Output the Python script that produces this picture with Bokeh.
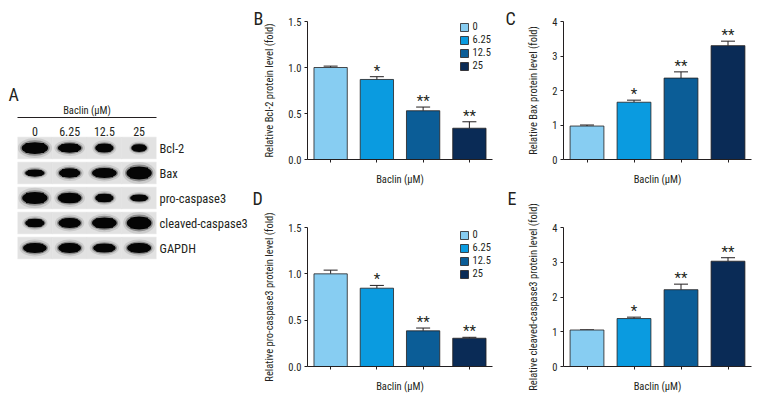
from bokeh.plotting import figure
from bokeh.models import (Range1d, FactorRange, ColumnDataSource, Whisker, TeeHead,
                          Label, Legend, LegendItem, FixedTicker, NumeralTickFormatter,
                          CategoricalAxis)
from bokeh.layouts import row, column
from bokeh.embed import file_html
from bokeh.resources import INLINE
from bokeh.core.properties import value

FONT = "'Roboto Condensed', 'Noto Sans ExtraCondensed', 'DejaVu Sans Condensed', 'Liberation Sans', sans-serif"
INK = "#231f20"

# ---------------- data ----------------
doses = ["0", "6.25", "12.5", "25"]
dose_title = "Baclin (μM)"
bar_colors = ["#87cdf2", "#0a9be0", "#0b5d97", "#0a2b56"]

bcl2_mean = [1.00, 0.87, 0.53, 0.34]
bcl2_err = [0.015, 0.03, 0.04, 0.07]
bax_mean = [0.97, 1.66, 2.36, 3.30]
bax_err = [0.03, 0.06, 0.18, 0.13]
pro_mean = [1.00, 0.845, 0.385, 0.305]
pro_err = [0.04, 0.03, 0.03, 0.01]
cleaved_mean = [1.05, 1.38, 2.21, 3.03]
cleaved_err = [0.005, 0.04, 0.16, 0.10]
significance = ["", "*", "**", "**"]

ticks_fold_small = [0, 0.5, 1.0, 1.5]
ticks_fold_large = [0, 1, 2, 3, 4]

blot_proteins = ["Bcl-2", "Bax", "pro-caspase3", "cleaved-caspase3", "GAPDH"]
# relative band width (fraction of a lane) and band thickness (fraction of a row)
band_width = {
    "Bcl-2": [0.76, 0.68, 0.53, 0.45],
    "Bax": [0.56, 0.62, 0.71, 0.73],
    "pro-caspase3": [0.73, 0.68, 0.53, 0.52],
    "cleaved-caspase3": [0.56, 0.65, 0.71, 0.71],
    "GAPDH": [0.68, 0.66, 0.65, 0.69],
}
band_thick = {
    "Bcl-2": [0.47, 0.38, 0.36, 0.31],
    "Bax": [0.29, 0.38, 0.40, 0.52],
    "pro-caspase3": [0.48, 0.42, 0.34, 0.28],
    "cleaved-caspase3": [0.34, 0.40, 0.44, 0.52],
    "GAPDH": [0.40, 0.40, 0.36, 0.40],
}


def letter(p, txt, x, y, side):
    p.add_layout(Label(x=x, y=y, x_units="screen", y_units="screen", text=txt,
                       text_font=FONT, text_font_size="18px", text_color=INK,
                       text_baseline="alphabetic"), side)


# ---------------- panel A : western blot ----------------
pa = figure(width=250, height=408, x_range=FactorRange(*doses),
            y_range=FactorRange(*reversed(blot_proteins)),
            x_axis_location="above", y_axis_location="right",
            output_backend="svg", toolbar_location=None,
            min_border_left=17, min_border_right=75, min_border_top=135, min_border_bottom=148)
pa.grid.visible = False
pa.outline_line_color = None

lanes, prots, ws, hs = [], [], [], []
for prot in blot_proteins:
    for i, d in enumerate(doses):
        lanes.append(d)
        prots.append(prot)
        ws.append(band_width[prot][i])
        hs.append(band_thick[prot][i])
bsrc = ColumnDataSource(dict(lane=lanes, prot=prots, w=ws, h=hs,
                             w1=[w * 1.3 for w in ws], h1=[h * 1.7 for h in hs],
                             w2=[w * 1.12 for w in ws], h2=[h * 1.3 for h in hs],
                             w3=[w * 0.7 for w in ws], h3=[h * 0.86 for h in hs]))
pa.rect(x="lane", y="prot", width=1.0, height=0.86, source=bsrc,
        fill_color="#e2e2e2", line_color="#e2e2e2", line_width=0.6)
pa.ellipse(x="lane", y="prot", width="w1", height="h1", source=bsrc,
           fill_color="#000000", fill_alpha=0.10, line_color=None)
pa.ellipse(x="lane", y="prot", width="w2", height="h2", source=bsrc,
           fill_color="#000000", fill_alpha=0.30, line_color=None)
pa.ellipse(x="lane", y="prot", width="w", height="h", source=bsrc,
           fill_color="#050505", line_color=None)
pa.rect(x="lane", y="prot", width="w3", height="h3", source=bsrc,
        fill_color="#050505", line_color=None)

ax_l = pa.xaxis[0]
ax_l.axis_line_color = None
ax_l.major_tick_line_color = None
ax_l.minor_tick_line_color = None
ax_l.major_tick_in = 0
ax_l.major_tick_out = 0
ax_l.major_label_standoff = 0
ax_l.major_label_text_font = FONT
ax_l.major_label_text_font_size = "12px"
ax_l.major_label_text_color = INK
ax_l.axis_label = " "
ax_l.axis_label_text_font_size = "3px"
ax_l.axis_label_standoff = 0

ax_t = CategoricalAxis(axis_label=dose_title)
ax_t.axis_line_color = INK
ax_t.axis_line_width = 1
ax_t.major_tick_line_color = None
ax_t.minor_tick_line_color = None
ax_t.major_tick_in = 0
ax_t.major_tick_out = 0
ax_t.major_label_text_font_size = "1px"
ax_t.major_label_text_color = None
ax_t.major_label_standoff = 0
ax_t.axis_label_standoff = 1
ax_t.axis_label_text_font = FONT
ax_t.axis_label_text_font_size = "10.5px"
ax_t.axis_label_text_font_style = "normal"
ax_t.axis_label_text_color = INK
pa.add_layout(ax_t, "above")

ay = pa.yaxis[0]
ay.axis_line_color = None
ay.major_tick_line_color = None
ay.minor_tick_line_color = None
ay.major_tick_in = 0
ay.major_tick_out = 0
ay.major_label_standoff = 3
ay.major_label_text_font = FONT
ay.major_label_text_font_size = "12.5px"
ay.major_label_text_color = INK
letter(pa, "A", -9, 187, "below")


# ---------------- bar panels ----------------
def bar_panel(means, errs, ymax, ticks, fmt, ylabel, w, h, bl, br, bt, bb, legend_xy=None):
    p = figure(width=w, height=h, x_range=FactorRange(*doses), y_range=Range1d(0, ymax),
               output_backend="svg", toolbar_location=None,
               min_border_left=bl, min_border_right=br, min_border_top=bt, min_border_bottom=bb)
    p.grid.visible = False
    p.outline_line_color = None
    src = ColumnDataSource(dict(dose=doses, mean=means,
                                upper=[m + e for m, e in zip(means, errs)],
                                color=bar_colors))
    r = p.vbar(x="dose", top="mean", width=0.72, source=src, fill_color="color",
               line_color=INK, line_width=0.8)
    p.add_layout(Whisker(source=src, base="dose", upper="upper", lower="mean",
                         line_color=INK, line_width=1,
                         upper_head=TeeHead(size=14, line_color=INK, line_width=1),
                         lower_head=None))
    keep = [i for i, s in enumerate(significance) if s]
    star_src = ColumnDataSource(dict(dose=[doses[i] for i in keep],
                                     top=[means[i] + errs[i] for i in keep],
                                     sig=[significance[i] for i in keep]))
    p.text(x="dose", y="top", text="sig", source=star_src, text_align="center",
           text_baseline="alphabetic", y_offset=-6, text_font=value(FONT),
           text_font_size="15px", text_color=INK)

    xa = p.xaxis[0]
    xa.axis_label = dose_title
    xa.axis_label_text_font = FONT
    xa.axis_label_text_font_size = "10.5px"
    xa.axis_label_text_font_style = "normal"
    xa.axis_label_text_color = INK
    xa.axis_label_standoff = 10
    xa.major_label_text_font_size = "1px"
    xa.major_label_text_color = None
    xa.major_label_standoff = 0
    xa.major_tick_in = 0
    xa.major_tick_out = 3
    xa.axis_line_color = INK
    xa.major_tick_line_color = INK

    ya = p.yaxis[0]
    ya.ticker = FixedTicker(ticks=ticks)
    ya.formatter = NumeralTickFormatter(format=fmt)
    ya.minor_tick_line_color = None
    ya.major_tick_in = 0
    ya.major_tick_out = 3
    ya.major_label_standoff = 3
    ya.major_label_text_font = FONT
    ya.major_label_text_font_size = "10.5px"
    ya.major_label_text_color = INK
    ya.axis_line_color = INK
    ya.major_tick_line_color = INK
    ya.axis_label = ylabel
    ya.axis_label_text_font = FONT
    ya.axis_label_text_font_size = "10.5px"
    ya.axis_label_text_font_style = "normal"
    ya.axis_label_text_color = INK
    ya.axis_label_standoff = 9

    if legend_xy is not None:
        items = [LegendItem(label=d, renderers=[r], index=i) for i, d in enumerate(doses)]
        leg = Legend(items=items, location=legend_xy, glyph_width=10, glyph_height=10,
                     label_height=13, spacing=-1, padding=0, margin=0, label_standoff=4,
                     label_text_font=FONT, label_text_font_size="10.5px",
                     label_text_color=INK, border_line_color=None,
                     background_fill_alpha=0)
        p.add_layout(leg)
    return p


pb = bar_panel(bcl2_mean, bcl2_err, 1.5, ticks_fold_small, "0.0",
               "Relative Bcl-2 protein level (fold)", 250, 188, 57, 8, 21, 27, (151.5, 87))
letter(pb, "B", -54, 3, "above")
pc = bar_panel(bax_mean, bax_err, 4, ticks_fold_large, "0",
               "Relative Bax protein level (fold)", 268, 188, 63, 17, 21, 27)
letter(pc, "C", -58, 3, "above")
pd = bar_panel(pro_mean, pro_err, 1.5, ticks_fold_small, "0.0",
               "Relative pro-caspase3 protein level (fold)", 250, 220, 57, 8, 39, 42, (151.5, 86))
letter(pd, "D", -55, 29.5, "above")
pe = bar_panel(cleaved_mean, cleaved_err, 4, ticks_fold_large, "0",
               "Relative cleaved-caspase3 protein level (fold)", 268, 220, 63, 17, 39, 42)
letter(pe, "E", -56, 29, "above")

layout = row(pa, column(row(pb, pc), row(pd, pe)))
open("out.html", "w").write(file_html(layout, INLINE))
